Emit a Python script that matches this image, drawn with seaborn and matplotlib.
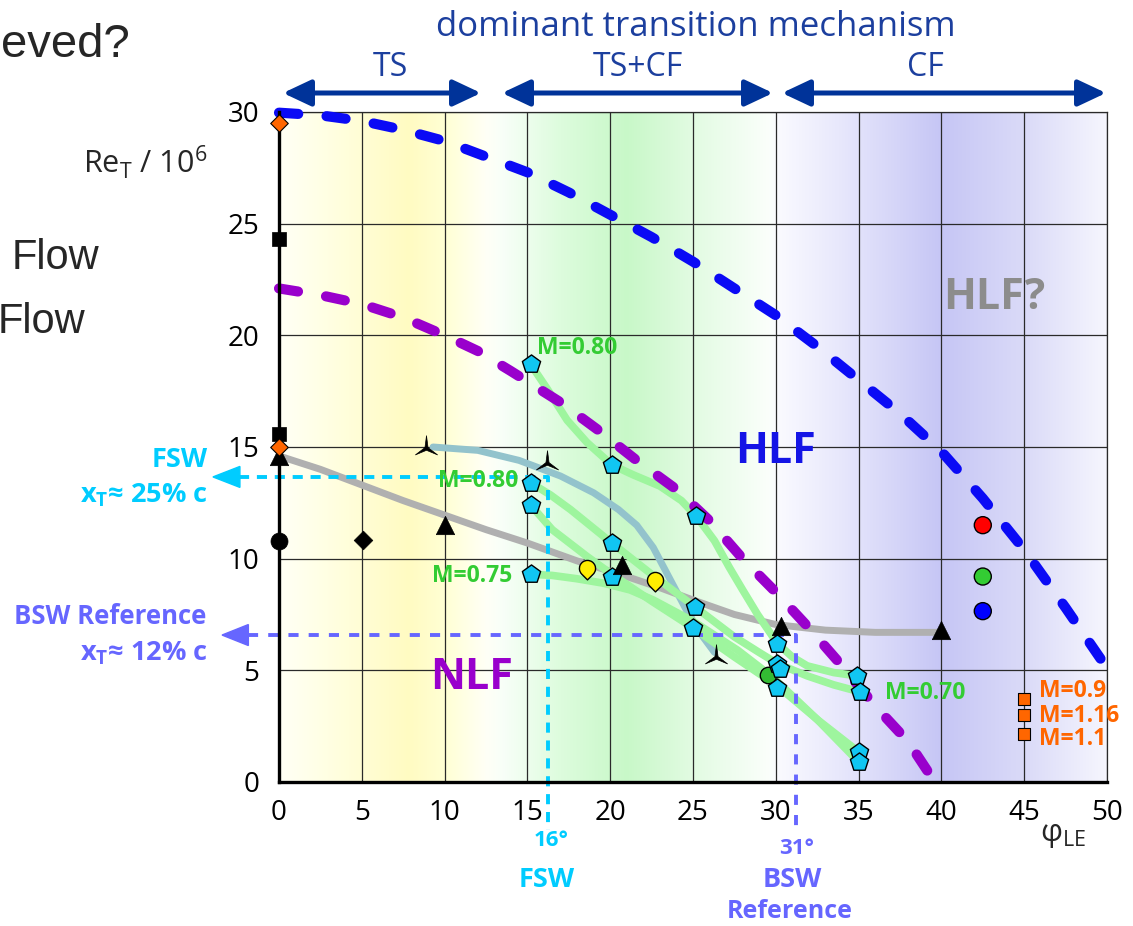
import numpy as np
import matplotlib
matplotlib.use("Agg")
import matplotlib.pyplot as plt
from matplotlib.path import Path
from matplotlib.colors import to_rgb
import seaborn as sns

# ---------------- data ----------------
x_ticks = [0, 5, 10, 15, 20, 25, 30, 35, 40, 45, 50]
y_ticks = [0, 5, 10, 15, 20, 25, 30]

# HLF limit (blue dashed)
hlf_x = [0, 2.5, 5, 7.5, 10, 12.5, 15, 17.5, 20, 22.5, 25, 27.5, 30, 32.5, 35, 37.5, 40, 42.5, 45, 47.5, 50]
hlf_y = [29.97, 29.85, 29.6, 29.2, 28.7, 28.0, 27.3, 26.4, 25.4, 24.4, 23.3, 22.1, 20.9, 19.5, 18.0, 16.5, 14.8, 12.7, 10.4, 7.8, 5.1]

# NLF limit (purple dashed)
nlf_x = [0, 2.5, 5, 7.5, 10, 12, 14, 17, 19.2, 21.6, 24, 26, 28, 30, 32, 34, 36, 38, 39.6]
nlf_y = [22.1, 21.8, 21.4, 20.8, 20.0, 19.3, 18.4, 17.0, 15.8, 14.4, 13.1, 11.7, 10.0, 8.5, 6.9, 5.2, 3.4, 1.8, 0.0]

# gray trend
gray_x = [0, 2.5, 5, 7.5, 10, 12.5, 15, 18, 21, 23, 25, 27.5, 30, 33, 36, 40]
gray_y = [14.6, 14.0, 13.3, 12.6, 11.95, 11.3, 10.7, 9.9, 9.2, 8.7, 8.15, 7.5, 7.05, 6.8, 6.7, 6.7]

# teal trend
teal_x = [9.3, 12, 14.5, 17, 19, 20.5, 21.6, 22.6, 23.6, 24.6, 25.6, 26.3]
teal_y = [15.0, 14.85, 14.4, 13.7, 12.95, 12.2, 11.5, 10.5, 9.1, 7.7, 6.5, 5.8]

# green Mach-number curves
mA_x = [15.2, 16.2, 17.4, 18.6, 20.1, 21.4, 23.0, 24.3, 25.2, 26.3, 27.2, 28.0, 28.9, 30.1, 31.0, 31.9, 33.5, 34.9]
mA_y = [18.7, 17.6, 16.2, 15.2, 14.2, 13.75, 13.25, 12.6, 11.9, 10.8, 9.6, 8.6, 7.5, 6.2, 5.6, 5.2, 4.9, 4.75]
mB_x = [15.2, 16.4, 17.6, 20.1, 22.5, 25.1, 27.5, 29.0, 30.1, 31.9, 33.5, 35.0]
mB_y = [13.4, 12.85, 12.2, 10.7, 9.3, 7.85, 6.5, 5.8, 5.3, 4.75, 4.35, 4.05]
mC_x = [15.2, 16.5, 18.6, 20.1, 22.5, 25.0, 27.5, 30.1, 32.5, 35.0]
mC_y = [12.4, 11.3, 10.1, 9.3, 8.1, 6.9, 5.6, 4.3, 2.8, 1.35]
mD_x = [15.2, 16.5, 18.0, 19.6, 21.2, 22.6, 25.0, 27.7, 29.8, 32.5, 35.0]
mD_y = [9.3, 9.25, 9.1, 8.9, 8.6, 8.15, 7.2, 5.9, 4.7, 2.8, 0.9]

# markers
pent_x = [15.2, 20.1, 25.2, 15.2, 15.2, 20.1, 20.1, 15.2, 25.1, 25.0, 30.1, 30.1, 30.25, 30.1, 34.9, 35.1, 35.0, 35.0]
pent_y = [18.7, 14.2, 11.9, 13.4, 12.4, 10.7, 9.2, 9.3, 7.85, 6.9, 6.2, 5.3, 5.05, 4.2, 4.75, 4.05, 1.35, 0.9]
tri_x = [0, 10, 20.7, 30.3, 40]
tri_y = [14.6, 11.5, 9.7, 7.0, 6.8]
star_x = [8.9, 16.2, 26.4]
star_y = [14.95, 14.3, 5.6]
ylw_x = [18.6, 22.7]
ylw_y = [9.6, 9.05]
blk_sq_x = [0, 0]
blk_sq_y = [24.3, 15.6]
org_dm_x = [0, 0]
org_dm_y = [29.5, 15.0]
blk_dm_x = [5.05]
blk_dm_y = [10.85]
blk_ci_x = [0]
blk_ci_y = [10.8]
rgb_x = [42.5, 42.5, 42.5]
rgb_y = [11.5, 9.2, 7.65]
rgb_c = ["#ff0000", "#33cc33", "#0000ff"]
grn_ci_x = [29.5]
grn_ci_y = [4.8]
org_sq_x = [45, 45, 45]
org_sq_y = [3.7, 3.0, 2.15]
org_labels = ["M=0.9", "M=1.16", "M=1.1"]

fsw_angle, fsw_re = 16.25, 13.66
bsw_angle, bsw_re = 31.2, 6.58

# ---------------- style ----------------
sns.set_style("white")
plt.rcParams['font.family'] = ['Open Sans', 'DejaVu Sans']
plt.rcParams['mathtext.fontset'] = 'custom'
plt.rcParams['mathtext.rm'] = 'Open Sans'

W, H = 1133, 926
fig = plt.figure(figsize=(W / 100, H / 100), dpi=100)
ax = fig.add_axes([279 / W, 1 - 782 / H, 828 / W, 670 / H])
fx = lambda p: p / W
fy = lambda p: 1 - p / H

# background gradient
stops = [(0, '#fffff6'), (3, '#ffffe2'), (7.8, '#fffbc2'), (10, '#ffffd4'), (12.5, '#fffff6'),
         (13.5, '#f8fff8'), (17, '#ddfcdd'), (21, '#c8f8c8'), (25, '#e2fbe2'), (29.6, '#fbfffb'),
         (30.2, '#fafaff'), (35, '#e2e2fb'), (40, '#c6c6f5'), (45, '#dadaf8'), (50, '#f6f6fe')]
xs = np.linspace(0, 50, 1000)
sx = [s for s, _ in stops]
cols = np.array([to_rgb(c) for _, c in stops])
img = np.stack([np.interp(xs, sx, cols[:, i]) for i in range(3)], axis=-1)[None, :, :]
ax.imshow(img, extent=[0, 50, 0, 30], aspect='auto', zorder=0, interpolation='bilinear')

ax.set_xlim(0, 50)
ax.set_ylim(0, 30)
ax.set_xticks(x_ticks)
ax.set_yticks(y_ticks)
ax.set_xticklabels([str(v) for v in x_ticks])
ax.set_yticklabels([str(v) for v in y_ticks])
ax.grid(True, color='#2a2a2a', lw=0.9)
ax.set_axisbelow(True)
for s in ['top', 'right']:
    ax.spines[s].set_color('#2a2a2a')
    ax.spines[s].set_linewidth(0.9)
for s in ['left', 'bottom']:
    ax.spines[s].set_color('black')
    ax.spines[s].set_linewidth(2.4)
    ax.spines[s].set_zorder(4)
ax.tick_params(axis='both', direction='out', length=9, width=2.3, color='black',
               labelsize=20, labelcolor='black')
ax.tick_params(axis='y', pad=5)
ax.tick_params(axis='x', pad=3)
ax.set_xlabel('')
ax.set_ylabel('')

# lines
line_kw = dict(sort=False, estimator=None, legend=False)
sns.lineplot(x=gray_x, y=gray_y, color='#b0b0b0', lw=5, solid_capstyle='round', zorder=2, ax=ax, **line_kw)
sns.lineplot(x=teal_x, y=teal_y, color='#93c3cc', lw=5, solid_capstyle='round', zorder=2, ax=ax, **line_kw)
for cx, cy in [(mD_x, mD_y), (mC_x, mC_y), (mB_x, mB_y), (mA_x, mA_y)]:
    sns.lineplot(x=cx, y=cy, color='#9ef59e', lw=5.5, solid_capstyle='round', solid_joinstyle='round',
                 zorder=2.5, ax=ax, **line_kw)
sns.lineplot(x=nlf_x, y=nlf_y, color='#9900cc', lw=7.3, linestyle=(0, (1.9, 2.8)), dash_capstyle='round',
             zorder=3, clip_on=False, ax=ax, **line_kw)
sns.lineplot(x=hlf_x, y=hlf_y, color='#0a0af5', lw=7.3, linestyle=(0, (1.9, 2.8)), dash_capstyle='round',
             zorder=3, clip_on=False, ax=ax, **line_kw)

# reference dashed lines
cyan = '#00ccff'
viol = '#6666ff'
sns.lineplot(x=[-2.4, fsw_angle, fsw_angle], y=[fsw_re, fsw_re, -2.15], color=cyan, lw=2.8,
             linestyle=(0, (2.6, 2.0)), zorder=3.5, clip_on=False, ax=ax, **line_kw)
sns.lineplot(x=[-1.9, bsw_angle, bsw_angle], y=[bsw_re, bsw_re, -2.2], color=viol, lw=2.8,
             linestyle=(0, (2.6, 2.6)), zorder=3.5, clip_on=False, ax=ax, **line_kw)
ax.fill([-3.99, -2.36, -2.36], [fsw_re, fsw_re + 0.47, fsw_re - 0.47], color=cyan, clip_on=False, zorder=3.5)
ax.fill([-3.44, -1.85, -1.85], [bsw_re, bsw_re + 0.47, bsw_re - 0.47], color=viol, clip_on=False, zorder=3.5)

# markers
tear_arc = Path.arc(-45, 225)
tear = Path(np.vstack([tear_arc.vertices, [[0, -1.414], [0.7071, -0.7071]]]),
            list(tear_arc.codes) + [Path.LINETO, Path.CLOSEPOLY])
star3 = Path.unit_regular_star(3, 0.14)

sc = dict(clip_on=False, legend=False, ax=ax)
sns.scatterplot(x=pent_x, y=pent_y, marker='p', s=190, color='#11c6f2', edgecolor='black', linewidth=1.0, zorder=6, **sc)
sns.scatterplot(x=tri_x, y=tri_y, marker='^', s=175, color='black', edgecolor='black', linewidth=0.5, zorder=6, **sc)
sns.scatterplot(x=star_x, y=star_y, marker=star3, s=340, color='black', edgecolor='black', linewidth=0.5, zorder=6, **sc)
sns.scatterplot(x=ylw_x, y=ylw_y, marker=tear, s=270, color='#ffee00', edgecolor='black', linewidth=1.0, zorder=6, **sc)
sns.scatterplot(x=blk_sq_x, y=blk_sq_y, marker='s', s=95, color='black', edgecolor='black', linewidth=0.5, zorder=6, **sc)
sns.scatterplot(x=org_dm_x, y=org_dm_y, marker='D', s=80, color='#ff6600', edgecolor='black', linewidth=0.8, zorder=6.5, **sc)
sns.scatterplot(x=blk_dm_x, y=blk_dm_y, marker='D', s=90, color='black', edgecolor='black', linewidth=0.5, zorder=6, **sc)
sns.scatterplot(x=blk_ci_x, y=blk_ci_y, marker='o', s=150, color='black', edgecolor='black', linewidth=0.5, zorder=6, **sc)
sns.scatterplot(x=rgb_x, y=rgb_y, hue=rgb_c, palette={c: c for c in rgb_c}, marker='o', s=150,
                edgecolor='black', linewidth=1.0, zorder=6, **sc)
sns.scatterplot(x=grn_ci_x, y=grn_ci_y, marker='o', s=140, color='#33bb33', edgecolor='black', linewidth=1.0, zorder=5.5, **sc)
sns.scatterplot(x=org_sq_x, y=org_sq_y, marker='s', s=80, color='#ff6600', edgecolor='black', linewidth=0.8, zorder=6, **sc)

# in-plot texts
green_t = '#33cc33'
mfs = 16.5
ax.text(15.6, 19.43, 'M=0.80', color=green_t, fontsize=mfs, fontweight='bold', ha='left', va='center', zorder=7)
ax.text(14.45, 13.48, 'M=0.80', color=green_t, fontsize=mfs, fontweight='bold', ha='right', va='center', zorder=7)
ax.text(14.1, 9.22, 'M=0.75', color=green_t, fontsize=mfs, fontweight='bold', ha='right', va='center', zorder=7)
ax.text(36.6, 4.0, 'M=0.70', color=green_t, fontsize=mfs, fontweight='bold', ha='left', va='center', zorder=7)
for yy, lab in zip([4.07, 2.95, 1.93], org_labels):
    ax.text(45.9, yy, lab, color='#ff6600', fontsize=mfs, fontweight='bold', ha='left', va='center',
            zorder=7, clip_on=False)
ax.text(30.0, 14.8, 'HLF', color='#1414e6', fontsize=31, fontweight='bold', ha='center', va='center', zorder=7)
ax.text(11.65, 4.7, 'NLF', color='#9900cc', fontsize=31, fontweight='bold', ha='center', va='center', zorder=7)
ax.text(43.2, 21.7, 'HLF?', color='#8c8c8c', fontsize=31, fontweight='bold', ha='center', va='center', zorder=7)

# top: dominant transition mechanism
navy = '#003399'
fig.text(fx(696), fy(27), 'dominant transition mechanism', color='#1c3f9e', fontsize=25, ha='center', va='center')
fig.text(fx(390), fy(67), 'TS', color='#1c3f9e', fontsize=23, ha='center', va='center')
fig.text(fx(638), fy(67), 'TS+CF', color='#1c3f9e', fontsize=23, ha='center', va='center')
fig.text(fx(925), fy(67), 'CF', color='#1c3f9e', fontsize=23, ha='center', va='center')
arrow_style = dict(arrowstyle='<|-|>,head_length=0.85,head_width=0.4', color=navy, lw=3.6,
                   mutation_scale=20, shrinkA=0, shrinkB=0)
for a, b in [(283, 481), (502, 773), (782, 1106)]:
    ax.annotate('', xy=(fx(b), fy(93)), xytext=(fx(a), fy(93)), xycoords='figure fraction',
                textcoords='figure fraction', arrowprops=arrow_style, annotation_clip=False)

# left side texts
fig.text(fx(145), fy(162), r'Re$_\mathregular{T}$ / 10$^\mathregular{6}$', fontsize=22, ha='center', va='center')
fig.text(fx(1), fy(45), 'eved?', fontsize=34, family='Liberation Sans', ha='left', va='center')
fig.text(fx(12), fy(258), 'Flow', fontsize=30, family='Liberation Sans', ha='left', va='center')
fig.text(fx(-2), fy(322), 'Flow', fontsize=30, family='Liberation Sans', ha='left', va='center')

fig.text(fx(208), fy(460), 'FSW', color=cyan, fontsize=19.5, fontweight='bold', ha='right', va='center')
fig.text(fx(208), fy(495), r'x$_\mathregular{T}$≈ 25% c', color=cyan, fontsize=19.5, fontweight='bold', ha='right', va='center')
fig.text(fx(206), fy(617), 'BSW Reference', color=viol, fontsize=18.5, fontweight='bold', ha='right', va='center')
fig.text(fx(208), fy(653), r'x$_\mathregular{T}$≈ 12% c', color=viol, fontsize=19.5, fontweight='bold', ha='right', va='center')

# bottom texts
fig.text(fx(551), fy(841), '16°', color=cyan, fontsize=16, fontweight='bold', ha='center', va='center')
fig.text(fx(547), fy(880), 'FSW', color=cyan, fontsize=19.5, fontweight='bold', ha='center', va='center')
fig.text(fx(797), fy(848), '31°', color=viol, fontsize=16, fontweight='bold', ha='center', va='center')
fig.text(fx(792), fy(880), 'BSW', color=viol, fontsize=19.5, fontweight='bold', ha='center', va='center')
fig.text(fx(790), fy(912), 'Reference', color=viol, fontsize=18, fontweight='bold', ha='center', va='center')
fig.text(fx(1063), fy(835), r'$\mathregular{\varphi}_\mathregular{LE}$', fontsize=22, ha='center', va='center')

fig.savefig('out.png', dpi=100)
